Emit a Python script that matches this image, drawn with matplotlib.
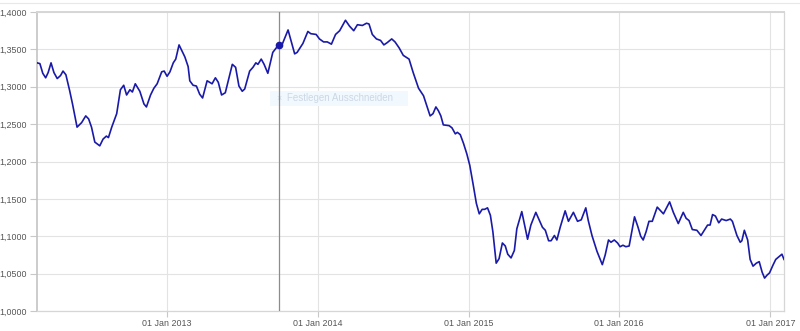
"""Weekly exchange rate line chart, Feb 2012 - Feb 2017."""

import matplotlib
matplotlib.use("Agg")
import matplotlib.pyplot as plt
import matplotlib.ticker as ticker
from matplotlib.lines import Line2D
from matplotlib.patches import Rectangle
import pandas as pd

dates = [
    "2012-02-21", "2012-02-28", "2012-03-06", "2012-03-13", "2012-03-19", "2012-03-26",
    "2012-04-02", "2012-04-10", "2012-04-18", "2012-04-24", "2012-05-01", "2012-05-10",
    "2012-05-17", "2012-05-28", "2012-06-08", "2012-06-18", "2012-06-25", "2012-07-02",
    "2012-07-10", "2012-07-22", "2012-07-30", "2012-08-07", "2012-08-12", "2012-08-20",
    "2012-09-01", "2012-09-10", "2012-09-18", "2012-09-25", "2012-10-03", "2012-10-09",
    "2012-10-16", "2012-10-27", "2012-11-06", "2012-11-12", "2012-11-22", "2012-11-30",
    "2012-12-08", "2012-12-19", "2012-12-25",
    "2013-01-01", "2013-01-08", "2013-01-16", "2013-01-22", "2013-01-30", "2013-02-05",
    "2013-02-13", "2013-02-21", "2013-02-25", "2013-03-05", "2013-03-13", "2013-03-21",
    "2013-03-28", "2013-04-08", "2013-04-20", "2013-04-28", "2013-05-05", "2013-05-13",
    "2013-05-22", "2013-05-31", "2013-06-08", "2013-06-16", "2013-06-24", "2013-07-02",
    "2013-07-08", "2013-07-20", "2013-07-28", "2013-08-04", "2013-08-09", "2013-08-17",
    "2013-08-24", "2013-09-02", "2013-09-14", "2013-09-28", "2013-10-07", "2013-10-21",
    "2013-11-06", "2013-11-12", "2013-11-26", "2013-12-08", "2013-12-15", "2013-12-28",
    "2014-01-05", "2014-01-15", "2014-01-24", "2014-02-03", "2014-02-13", "2014-02-23",
    "2014-03-09", "2014-03-19", "2014-03-29", "2014-04-07", "2014-04-19", "2014-04-29",
    "2014-05-05", "2014-05-13", "2014-05-23", "2014-06-02", "2014-06-10", "2014-06-18",
    "2014-06-29", "2014-07-07", "2014-07-17", "2014-07-27", "2014-08-10", "2014-08-20",
    "2014-09-02", "2014-09-14", "2014-09-30", "2014-10-07", "2014-10-14", "2014-10-20",
    "2014-10-26", "2014-11-01", "2014-11-15", "2014-11-22", "2014-11-30", "2014-12-05",
    "2014-12-12", "2014-12-20", "2014-12-28",
    "2015-01-04", "2015-01-12", "2015-01-20", "2015-01-27", "2015-02-03", "2015-02-09",
    "2015-02-16", "2015-02-23", "2015-03-01", "2015-03-09", "2015-03-16", "2015-03-24",
    "2015-03-31", "2015-04-06", "2015-04-14", "2015-04-22", "2015-04-28", "2015-05-10",
    "2015-05-24", "2015-06-01", "2015-06-13", "2015-06-21", "2015-06-29", "2015-07-06",
    "2015-07-14", "2015-07-20", "2015-07-28", "2015-08-03", "2015-08-11", "2015-08-23",
    "2015-08-31", "2015-09-12", "2015-09-22", "2015-10-01", "2015-10-12", "2015-10-18",
    "2015-10-27", "2015-11-08", "2015-11-21", "2015-11-28", "2015-12-06", "2015-12-12",
    "2015-12-20", "2015-12-28",
    "2016-01-03", "2016-01-10", "2016-01-17", "2016-01-25", "2016-02-07", "2016-02-15",
    "2016-02-22", "2016-02-28", "2016-03-06", "2016-03-13", "2016-03-21", "2016-04-02",
    "2016-04-17", "2016-05-02", "2016-05-11", "2016-05-23", "2016-06-04", "2016-06-11",
    "2016-06-18", "2016-06-26", "2016-07-07", "2016-07-17", "2016-08-02", "2016-08-08",
    "2016-08-14", "2016-08-21", "2016-08-29", "2016-09-05", "2016-09-16", "2016-09-26",
    "2016-10-01", "2016-10-12", "2016-10-20", "2016-10-24", "2016-10-30", "2016-11-07",
    "2016-11-13", "2016-11-20", "2016-11-28", "2016-12-05", "2016-12-12", "2016-12-18",
    "2016-12-24", "2016-12-30",
    "2017-01-07", "2017-01-14", "2017-01-29", "2017-02-03",
]

rates = [
    1.332, 1.331, 1.318, 1.312, 1.319, 1.332,
    1.319, 1.311, 1.315, 1.321, 1.316, 1.295,
    1.277, 1.246, 1.252, 1.261, 1.257, 1.246,
    1.226, 1.221, 1.230, 1.234, 1.232, 1.246,
    1.264, 1.296, 1.302, 1.289, 1.296, 1.293,
    1.304, 1.294, 1.277, 1.273, 1.289, 1.298,
    1.304, 1.320, 1.321,
    1.314, 1.320, 1.332, 1.337, 1.356, 1.349,
    1.340, 1.327, 1.308, 1.302, 1.301, 1.290,
    1.285, 1.308, 1.304, 1.312, 1.306, 1.289,
    1.292, 1.312, 1.330, 1.326, 1.301, 1.294,
    1.297, 1.321, 1.326, 1.332, 1.330, 1.337,
    1.330, 1.318, 1.346, 1.356, 1.357, 1.376,
    1.344, 1.346, 1.358, 1.374, 1.371, 1.370,
    1.364, 1.360, 1.360, 1.357, 1.370, 1.375,
    1.389, 1.381, 1.375, 1.383, 1.382, 1.385,
    1.384, 1.370, 1.364, 1.362, 1.356, 1.359,
    1.364, 1.360, 1.352, 1.342, 1.337, 1.319,
    1.298, 1.288, 1.261, 1.264, 1.273, 1.268,
    1.261, 1.249, 1.248, 1.245, 1.237, 1.239,
    1.236, 1.224, 1.210,
    1.195, 1.170, 1.144, 1.130, 1.136, 1.136,
    1.138, 1.128, 1.106, 1.064, 1.070, 1.091,
    1.087, 1.076, 1.071, 1.081, 1.110, 1.133,
    1.096, 1.115, 1.132, 1.122, 1.112, 1.108,
    1.094, 1.094, 1.101, 1.095, 1.112, 1.134,
    1.120, 1.132, 1.120, 1.122, 1.138, 1.121,
    1.101, 1.080, 1.062, 1.075, 1.095, 1.092,
    1.095, 1.091,
    1.086, 1.088, 1.086, 1.087, 1.126, 1.113,
    1.100, 1.095, 1.106, 1.120, 1.120, 1.139,
    1.130, 1.146, 1.132, 1.117, 1.132, 1.124,
    1.121, 1.109, 1.108, 1.101, 1.115, 1.115,
    1.129, 1.127, 1.118, 1.123, 1.121, 1.123,
    1.120, 1.101, 1.092, 1.094, 1.108, 1.095,
    1.069, 1.060, 1.064, 1.066, 1.052, 1.044,
    1.048, 1.051,
    1.061, 1.069, 1.076, 1.069,
]

# hover cursor position
cursor_date = "2013-09-28"
cursor_rate = 1.356

tick_dates = ["2013-01-01", "2014-01-01", "2015-01-01", "2016-01-01", "2017-01-01"]
tick_labels = ["01 Jan 2013", "01 Jan 2014", "01 Jan 2015", "01 Jan 2016", "01 Jan 2017"]
y_ticks = [1.00, 1.05, 1.10, 1.15, 1.20, 1.25, 1.30, 1.35, 1.40]

plt.rcParams["font.family"] = ["Liberation Sans", "DejaVu Sans"]

x = pd.to_datetime(dates)

fig = plt.figure(figsize=(8, 3.31), dpi=100)
fig.patch.set_facecolor("white")
ax = fig.add_axes([0.04625, 0.0604, 0.93375, 0.9033])

ax.plot(x, rates, color="#1a1aa8", linewidth=1.2, zorder=3, solid_joinstyle="round")

# crosshair line and marker
ax.axvline(pd.Timestamp(cursor_date), color="#8c8c8c", linewidth=0.9, zorder=4)
ax.plot([pd.Timestamp(cursor_date)], [cursor_rate], "o", color="#1a1aa8",
        markersize=4.5, zorder=5)

ax.set_xlim(x[0], x[-1])
ax.set_ylim(1.0, 1.4)

ax.set_xticks(pd.to_datetime(tick_dates))
ax.set_xticklabels(tick_labels)
ax.set_yticks(y_ticks)
ax.yaxis.set_major_formatter(
    ticker.FuncFormatter(lambda v, pos: f"{v:.4f}".replace(".", ",")))

ax.tick_params(axis="both", colors="#c8c8c8", labelcolor="#555555", labelsize=6.4,
               width=0.8, length=4)
ax.tick_params(axis="x", pad=2)
ax.tick_params(axis="y", pad=2, length=5)

ax.grid(True, color="#e3e3e3", linewidth=0.8, zorder=1)
ax.set_axisbelow(True)

for side in ["top", "right", "bottom"]:
    ax.spines[side].set_color("#d6d6d6")
    ax.spines[side].set_linewidth(0.9)
ax.spines["left"].set_color("#c4c4c4")
ax.spines["left"].set_linewidth(1.2)
ax.spines["top"].set_linewidth(1.4)

# faint outer border line at the very top
fig.add_artist(Line2D([0, 1], [0.991, 0.991], color="#e8e8e8", linewidth=0.8))

# faded zoom button overlay, kept under the crosshair line
ax.add_patch(Rectangle((0.3375, 0.680), 0.1725, 0.0453, transform=fig.transFigure,
                       facecolor="#f1f8fe", edgecolor="none", zorder=2))
ax.text(0.345, 0.7025, "×", fontsize=6.5, color="#d0dbe8", va="center", ha="left",
        transform=fig.transFigure, zorder=2)
ax.text(0.359, 0.7025, "Festlegen Ausschneiden", fontsize=7, color="#ccd8e6",
        va="center", ha="left", transform=fig.transFigure, zorder=2)

fig.savefig("out.png", dpi=100, facecolor=fig.get_facecolor())
plt.close(fig)
